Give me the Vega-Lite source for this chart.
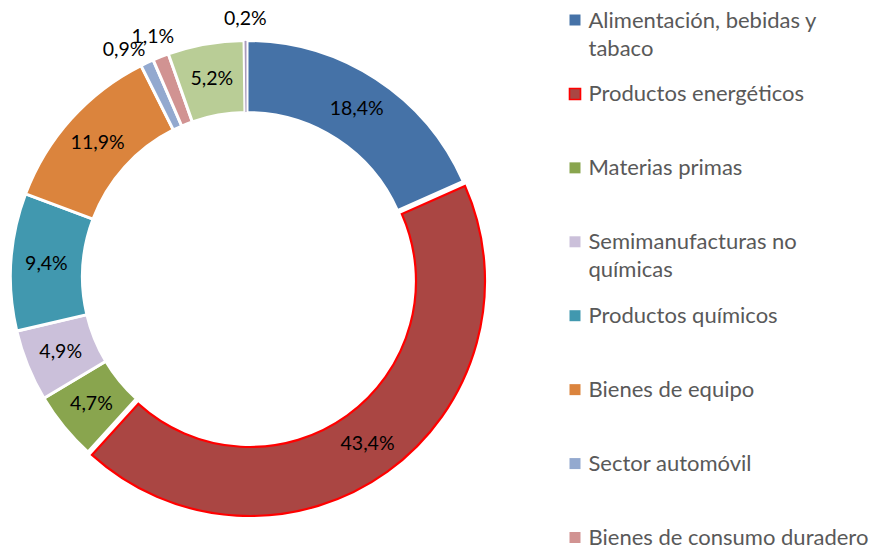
{
  "$schema": "https://vega.github.io/schema/vega-lite/v6.json",
  "padding": 0,
  "spacing": 0,
  "bounds": "flush",
  "background": "white",
  "config": {
    "view": {"stroke": null},
    "locale": {"number": {"decimal": ",", "thousands": ".", "grouping": [3], "currency": ["", " €"]}}
  },
  "datasets": {
    "exportaciones": [
      {"sector": "Alimentación, bebidas y tabaco", "cuota": 0.184, "orden": 1},
      {"sector": "Productos energéticos", "cuota": 0.434, "orden": 2},
      {"sector": "Materias primas", "cuota": 0.047, "orden": 3},
      {"sector": "Semimanufacturas no químicas", "cuota": 0.049, "orden": 4},
      {"sector": "Productos químicos", "cuota": 0.094, "orden": 5},
      {"sector": "Bienes de equipo", "cuota": 0.119, "orden": 6},
      {"sector": "Sector automóvil", "cuota": 0.009, "orden": 7},
      {"sector": "Bienes de consumo duradero", "cuota": 0.011, "orden": 8},
      {"sector": "Manufacturas de consumo", "cuota": 0.052, "orden": 9},
      {"sector": "Otras mercancías", "cuota": 0.002, "orden": 10}
    ]
  },
  "hconcat": [
    {
      "width": 494,
      "height": 554,
      "data": {"name": "exportaciones"},
      "layer": [
        {
          "mark": {"type": "arc", "outerRadius": 236.5, "innerRadius": 164.5, "stroke": "white"},
          "encoding": {
            "theta": {"field": "cuota", "type": "quantitative", "stack": true},
            "order": {"field": "orden", "type": "quantitative"},
            "color": {
              "field": "sector", "type": "nominal", "legend": null,
              "scale": {
                "domain": ["Alimentación, bebidas y tabaco", "Productos energéticos", "Materias primas", "Semimanufacturas no químicas", "Productos químicos", "Bienes de equipo", "Sector automóvil", "Bienes de consumo duradero", "Manufacturas de consumo", "Otras mercancías"],
                "range": ["#4572A7", "#AA4643", "#89A54E", "#CBC0DA", "#4198AF", "#DB843D", "#93A9CF", "#D19392", "#B9CD96", "#A99BBD"]
              }
            },
            "opacity": {"condition": {"test": "datum.sector === 'Productos energéticos'", "value": 0}, "value": 1},
            "strokeWidth": {"condition": {"test": "datum.cuota < 0.005", "value": 1}, "value": 3}
          }
        },
        {
          "mark": {"type": "arc", "outerRadius": 235, "innerRadius": 166, "fill": "#AA4643", "stroke": "#FF0000", "strokeWidth": 2.2, "xOffset": 3, "yOffset": 4},
          "encoding": {
            "theta": {"field": "cuota", "type": "quantitative", "stack": true},
            "order": {"field": "orden", "type": "quantitative"},
            "detail": {"field": "sector", "type": "nominal"},
            "opacity": {"condition": {"test": "datum.sector === 'Productos energéticos'", "value": 1}, "value": 0}
          }
        },
        {
          "mark": {"type": "text", "radius": 201, "font": "Lato", "fontSize": 19.5, "color": "#000000"},
          "encoding": {
            "theta": {"field": "cuota", "type": "quantitative", "stack": true},
            "order": {"field": "orden", "type": "quantitative"},
            "detail": {"field": "sector", "type": "nominal"},
            "text": {"condition": {"test": "datum.cuota >= 0.02 && datum.sector !== 'Productos energéticos'", "field": "cuota", "type": "quantitative", "format": ".1%"}, "value": ""}
          }
        },
        {
          "mark": {"type": "text", "radius": 201, "font": "Lato", "fontSize": 19.5, "color": "#000000", "dx": 3, "dy": 4},
          "encoding": {
            "theta": {"field": "cuota", "type": "quantitative", "stack": true},
            "order": {"field": "orden", "type": "quantitative"},
            "detail": {"field": "sector", "type": "nominal"},
            "text": {"condition": {"test": "datum.sector === 'Productos energéticos'", "field": "cuota", "type": "quantitative", "format": ".1%"}, "value": ""}
          }
        },
        {
          "transform": [
            {"stack": "cuota", "groupby": [], "sort": [{"field": "orden", "order": "ascending"}], "as": ["c0", "c1"]},
            {"filter": "datum.cuota < 0.02 && datum.sector !== 'Sector automóvil'"},
            {"calculate": "(datum.c0 + datum.c1) / 2", "as": "medio"}
          ],
          "mark": {"type": "text", "radius": 258, "font": "Lato", "fontSize": 19.5, "color": "#000000"},
          "encoding": {
            "theta": {"field": "medio", "type": "quantitative", "stack": null},
            "text": {"field": "cuota", "type": "quantitative", "format": ".1%"}
          }
        },
        {
          "transform": [
            {"stack": "cuota", "groupby": [], "sort": [{"field": "orden", "order": "ascending"}], "as": ["c0", "c1"]},
            {"filter": "datum.sector === 'Sector automóvil'"},
            {"calculate": "(datum.c0 + datum.c1) / 2", "as": "medio"}
          ],
          "mark": {"type": "text", "radius": 258, "font": "Lato", "fontSize": 19.5, "color": "#000000", "dx": -14, "dy": 7},
          "encoding": {
            "theta": {"field": "medio", "type": "quantitative", "stack": null},
            "text": {"field": "cuota", "type": "quantitative", "format": ".1%"}
          }
        }
      ]
    },
    {
      "width": 162,
      "height": 554,
      "data": {"name": "exportaciones"},
      "transform": [
        {"filter": "datum.orden <= 8"},
        {"calculate": "replace(replace(datum.sector, ' y tabaco', ' y\\ntabaco'), ' no químicas', ' no\\nquímicas')", "as": "etiqueta"}
      ],
      "encoding": {
        "y": {
          "field": "sector", "type": "nominal", "axis": null,
          "sort": ["Alimentación, bebidas y tabaco", "Productos energéticos", "Materias primas", "Semimanufacturas no químicas", "Productos químicos", "Bienes de equipo", "Sector automóvil", "Bienes de consumo duradero"],
          "scale": {"type": "point", "range": [20, 537.5], "padding": 0}
        }
      },
      "layer": [
        {
          "mark": {"type": "point", "shape": "square", "filled": true, "size": 121, "opacity": 1, "strokeWidth": 1.6},
          "encoding": {
            "color": {
              "field": "sector", "type": "nominal", "legend": null,
              "scale": {
                "domain": ["Alimentación, bebidas y tabaco", "Productos energéticos", "Materias primas", "Semimanufacturas no químicas", "Productos químicos", "Bienes de equipo", "Sector automóvil", "Bienes de consumo duradero", "Manufacturas de consumo", "Otras mercancías"],
                "range": ["#4572A7", "#AA4643", "#89A54E", "#CBC0DA", "#4198AF", "#DB843D", "#93A9CF", "#D19392", "#B9CD96", "#A99BBD"]
              }
            },
            "stroke": {"condition": {"test": "datum.sector === 'Productos energéticos'", "value": "#FF0000"}, "value": "transparent"}
          }
        },
        {
          "mark": {"type": "text", "align": "left", "baseline": "alphabetic", "dx": 13.5, "dy": 7.5, "font": "Lato", "fontSize": 22, "color": "#595959", "lineBreak": "\n", "lineHeight": 28},
          "encoding": {"text": {"field": "etiqueta", "type": "nominal"}}
        }
      ]
    },
    {
      "width": 219,
      "height": 554,
      "data": {"values": []},
      "mark": "point",
      "encoding": {}
    }
  ]
}
